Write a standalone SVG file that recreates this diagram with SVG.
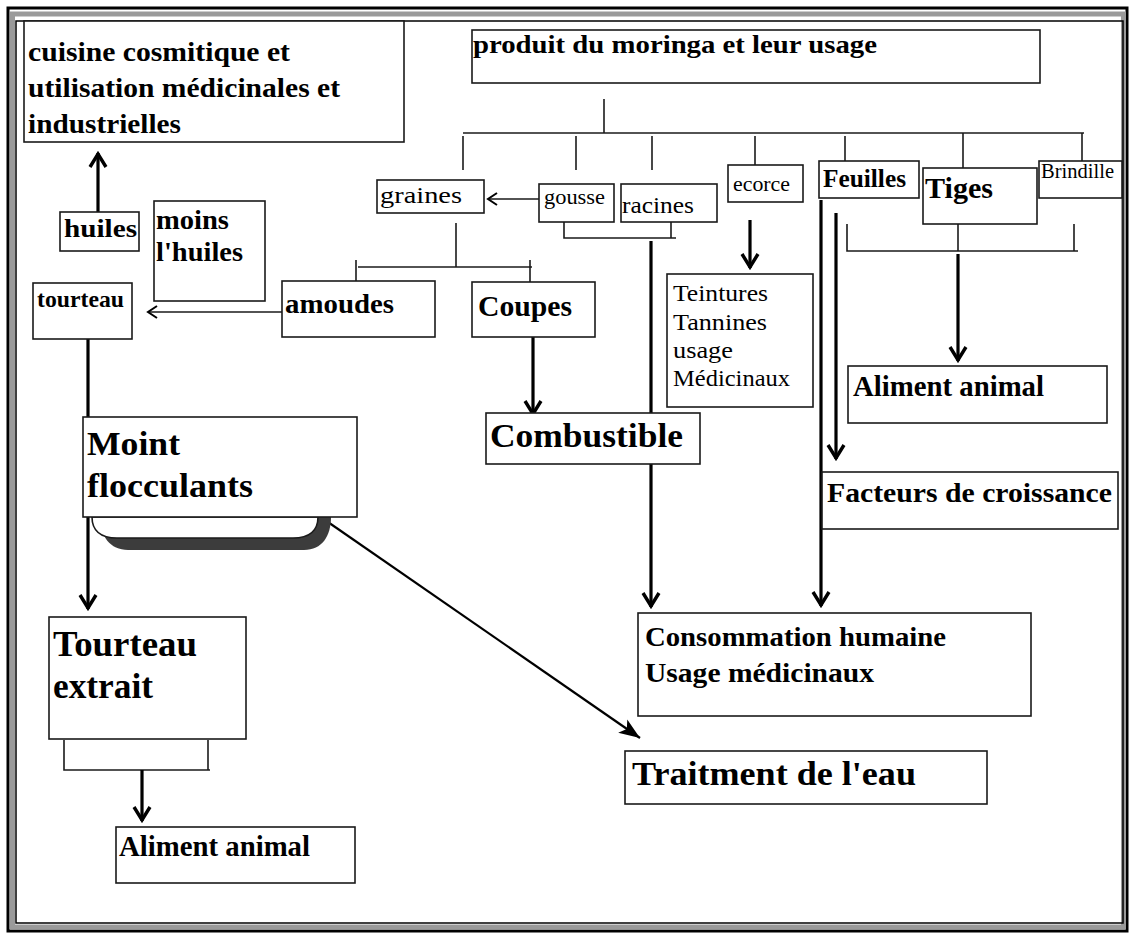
<svg xmlns="http://www.w3.org/2000/svg" width="1130" height="933" viewBox="0 0 1130 933">
<style>
.box{fill:#fff;stroke:#1a1a1a;stroke-width:1.6}
.b{font-family:"Liberation Serif","Times New Roman",serif;font-weight:bold;fill:#000}
.r{font-family:"Liberation Serif","Times New Roman",serif;font-weight:normal;fill:#000}
.thin{fill:none;stroke:#1a1a1a;stroke-width:1.6}
.thick{fill:none;stroke:#000;stroke-width:3.2}
.ta{fill:none;stroke:#000;stroke-width:3.2;marker-end:url(#chev)}
.na{fill:none;stroke:#1a1a1a;stroke-width:1.6;marker-end:url(#open)}
</style>
<defs>
<marker id="chev" markerUnits="userSpaceOnUse" viewBox="0 0 20 20" markerWidth="20" markerHeight="20" refX="18" refY="10" orient="auto">
<path d="M4,2 L17,10 L4,18" fill="none" stroke="#000" stroke-width="3.4"/>
</marker>
<marker id="open" markerUnits="userSpaceOnUse" viewBox="0 0 14 14" markerWidth="14" markerHeight="14" refX="12" refY="7" orient="auto">
<path d="M3,1 L12,7 L3,13" fill="none" stroke="#000" stroke-width="2"/>
</marker>
<marker id="tri" markerUnits="userSpaceOnUse" viewBox="0 0 22 18" markerWidth="22" markerHeight="18" refX="21" refY="9" orient="auto">
<path d="M0,1 L21,9 L0,17 L5,9 Z" fill="#000"/>
</marker>
</defs>
<rect x="0" y="0" width="1130" height="933" fill="#fff"/>
<!-- page frame -->
<g id="frame">
<rect x="8" y="8" width="1119" height="923" fill="none" stroke="#000" stroke-width="3"/>
<rect x="12.5" y="14" width="1111" height="913" fill="none" stroke="#9a9a9a" stroke-width="5"/>
<rect x="16" y="21" width="1107" height="902" fill="none" stroke="#000" stroke-width="1.5"/>
</g>

<g id="connectors">
<!-- top tree -->
<line class="thin" x1="604" y1="99" x2="604" y2="133"/>
<line class="thin" x1="463" y1="133" x2="1084" y2="133"/>
<line class="thin" x1="463" y1="136" x2="463" y2="170"/>
<line class="thin" x1="576" y1="136" x2="576" y2="170"/>
<line class="thin" x1="652" y1="136" x2="652" y2="170"/>
<line class="thin" x1="755" y1="136" x2="755" y2="170"/>
<line class="thin" x1="845" y1="136" x2="845" y2="162"/>
<line class="thin" x1="963" y1="133" x2="963" y2="168"/>
<line class="thin" x1="1082" y1="133" x2="1082" y2="161"/>
<!-- gousse -> graines -->
<line class="na" x1="539" y1="199" x2="488" y2="199"/>
<!-- gousse/racines bracket -->
<polyline class="thin" points="564,222 564,238 676,238"/>
<line class="thin" x1="671" y1="222" x2="671" y2="238"/>
<line class="thick" x1="651" y1="241" x2="651" y2="413"/>
<line class="ta" x1="651" y1="464" x2="651" y2="607"/>
<!-- ecorce -->
<line class="ta" x1="750" y1="220" x2="750" y2="268"/>
<!-- feuilles -->
<line class="ta" x1="821" y1="200" x2="821" y2="606"/>
<line class="ta" x1="836" y1="213" x2="836" y2="459"/>
<!-- tiges bracket -->
<polyline class="thin" points="847,224 847,251 1078,251"/>
<line class="thin" x1="1074" y1="224" x2="1074" y2="251"/>
<line class="thin" x1="958" y1="224" x2="958" y2="251"/>
<line class="ta" x1="958" y1="254" x2="958" y2="361"/>
<!-- graines bracket -->
<line class="thin" x1="456" y1="223" x2="456" y2="267"/>
<line class="thin" x1="358" y1="267" x2="532" y2="267"/>
<line class="thin" x1="356" y1="260" x2="356" y2="288"/>
<line class="thin" x1="530" y1="260" x2="530" y2="288"/>
<!-- coupes -> combustible -->
<line class="ta" x1="533" y1="331" x2="533" y2="415"/>
<!-- amoudes -> tourteau -->
<line class="na" x1="282" y1="312" x2="148" y2="312"/>
<!-- huiles -> cuisine -->
<line class="ta" x1="98" y1="212" x2="98" y2="153"/>
<!-- tourteau line -->
<line class="thick" x1="88" y1="323" x2="88" y2="417"/>
<line class="ta" x1="88" y1="517" x2="88" y2="609"/>
<!-- diagonal to traitment -->
<line x1="312" y1="511" x2="640" y2="738" stroke="#000" stroke-width="2.2" marker-end="url(#tri)"/>
<!-- tourteau extrait bracket -->
<polyline class="thin" points="64,740 64,770 210,770"/>
<line class="thin" x1="208" y1="740" x2="208" y2="770"/>
<line class="ta" x1="142" y1="770" x2="142" y2="821"/>
</g>

<g id="n-cuisine">
<rect class="box" x="24" y="21" width="380" height="121"/>
<text class="b" font-size="28" x="28" y="61" textLength="262" lengthAdjust="spacingAndGlyphs">cuisine cosmitique et</text>
<text class="b" font-size="28" x="28" y="97" textLength="312" lengthAdjust="spacingAndGlyphs">utilisation médicinales et</text>
<text class="b" font-size="28" x="28" y="133" textLength="153" lengthAdjust="spacingAndGlyphs">industrielles</text>
</g>
<g id="n-produit">
<rect class="box" x="472" y="30" width="568" height="53"/>
<text class="b" font-size="26" x="473" y="53" textLength="404" lengthAdjust="spacingAndGlyphs">produit du moringa et leur usage</text>
</g>
<g id="n-graines">
<rect class="box" x="377" y="180" width="107" height="33"/>
<text class="r" font-size="24" x="380" y="203" textLength="82" lengthAdjust="spacingAndGlyphs">graines</text>
</g>
<g id="n-gousse">
<rect class="box" x="539" y="184" width="75" height="38"/>
<text class="r" font-size="20" x="544" y="204" textLength="61" lengthAdjust="spacingAndGlyphs">gousse</text>
</g>
<g id="n-racines">
<rect class="box" x="621" y="184" width="96" height="38"/>
<text class="r" font-size="24" x="622" y="213" textLength="72" lengthAdjust="spacingAndGlyphs">racines</text>
</g>
<g id="n-ecorce">
<rect class="box" x="728" y="165" width="75" height="37"/>
<text class="r" font-size="22" x="733" y="191" textLength="57" lengthAdjust="spacingAndGlyphs">ecorce</text>
</g>
<g id="n-feuilles">
<rect class="box" x="819" y="161" width="100" height="37"/>
<text class="b" font-size="25" x="823" y="187" textLength="83" lengthAdjust="spacingAndGlyphs">Feuilles</text>
</g>
<g id="n-tiges">
<rect class="box" x="923" y="168" width="114" height="56"/>
<text class="b" font-size="30" x="925" y="198" textLength="68" lengthAdjust="spacingAndGlyphs">Tiges</text>
</g>
<g id="n-brindille">
<rect class="box" x="1039" y="161" width="83" height="37"/>
<text class="r" font-size="20" x="1041" y="178" textLength="73" lengthAdjust="spacingAndGlyphs">Brindille</text>
</g>
<g id="n-huiles">
<rect class="box" x="60" y="212" width="79" height="39"/>
<text class="b" font-size="26" x="64" y="237" textLength="73" lengthAdjust="spacingAndGlyphs">huiles</text>
</g>
<g id="n-moins">
<rect class="box" x="154" y="201" width="111" height="100"/>
<text class="b" font-size="27" x="156" y="229" textLength="73" lengthAdjust="spacingAndGlyphs">moins</text>
<text class="b" font-size="27" x="156" y="261" textLength="87" lengthAdjust="spacingAndGlyphs">l'huiles</text>
</g>
<g id="n-tourteau">
<rect class="box" x="33" y="283" width="99" height="56"/>
<text class="b" font-size="23" x="37" y="307" textLength="87" lengthAdjust="spacingAndGlyphs">tourteau</text>
</g>
<g id="n-amoudes">
<rect class="box" x="282" y="281" width="153" height="56"/>
<text class="b" font-size="28" x="285" y="313" textLength="109" lengthAdjust="spacingAndGlyphs">amoudes</text>
</g>
<g id="n-coupes">
<rect class="box" x="472" y="282" width="123" height="55"/>
<text class="b" font-size="29" x="478" y="316" textLength="94" lengthAdjust="spacingAndGlyphs">Coupes</text>
</g>
<g id="n-teintures">
<rect class="box" x="667" y="274" width="146" height="133"/>
<text class="r" font-size="24" x="673" y="301" textLength="95" lengthAdjust="spacingAndGlyphs">Teintures</text>
<text class="r" font-size="24" x="673" y="330" textLength="94" lengthAdjust="spacingAndGlyphs">Tannines</text>
<text class="r" font-size="24" x="673" y="358" textLength="60" lengthAdjust="spacingAndGlyphs">usage</text>
<text class="r" font-size="24" x="673" y="386" textLength="117" lengthAdjust="spacingAndGlyphs">Médicinaux</text>
</g>
<g id="n-aliment-right">
<rect class="box" x="848" y="366" width="259" height="57"/>
<text class="b" font-size="29" x="853" y="396" textLength="191" lengthAdjust="spacingAndGlyphs">Aliment animal</text>
</g>
<g id="n-moint">
<path d="M100,517 C100,536 110,550 128,550 L304,550 C322,550 331,536 331,517 Z" fill="#3c3c3c"/>
<path d="M92,517 C92,530 100,538 117,538 L293,538 C310,538 318,530 318,517 Z" fill="#fff" stroke="#1a1a1a" stroke-width="1.6"/>
<rect class="box" x="83" y="417" width="274" height="100"/>
<text class="b" font-size="34" x="87" y="455" textLength="93" lengthAdjust="spacingAndGlyphs">Moint</text>
<text class="b" font-size="34" x="87" y="497" textLength="166" lengthAdjust="spacingAndGlyphs">flocculants</text>
</g>
<g id="n-combustible">
<rect class="box" x="486" y="413" width="214" height="51"/>
<text class="b" font-size="34" x="490" y="447" textLength="193" lengthAdjust="spacingAndGlyphs">Combustible</text>
</g>
<g id="n-facteurs">
<rect class="box" x="822" y="472" width="296" height="57"/>
<text class="b" font-size="28" x="827" y="502" textLength="285" lengthAdjust="spacingAndGlyphs">Facteurs de croissance</text>
</g>
<g id="n-consommation">
<rect class="box" x="638" y="613" width="393" height="103"/>
<text class="b" font-size="28" x="645" y="646" textLength="301" lengthAdjust="spacingAndGlyphs">Consommation humaine</text>
<text class="b" font-size="28" x="645" y="682" textLength="229" lengthAdjust="spacingAndGlyphs">Usage médicinaux</text>
</g>
<g id="n-tourteau-extrait">
<rect class="box" x="49" y="617" width="197" height="122"/>
<text class="b" font-size="35" x="53" y="656" textLength="144" lengthAdjust="spacingAndGlyphs">Tourteau</text>
<text class="b" font-size="35" x="53" y="698" textLength="100" lengthAdjust="spacingAndGlyphs">extrait</text>
</g>
<g id="n-traitment">
<rect class="box" x="625" y="751" width="362" height="53"/>
<text class="b" font-size="34" x="632" y="785" textLength="284" lengthAdjust="spacingAndGlyphs">Traitment de l'eau</text>
</g>
<g id="n-aliment-bottom">
<rect class="box" x="116" y="827" width="239" height="56"/>
<text class="b" font-size="29" x="119" y="856" textLength="191" lengthAdjust="spacingAndGlyphs">Aliment animal</text>
</g>
</svg>
